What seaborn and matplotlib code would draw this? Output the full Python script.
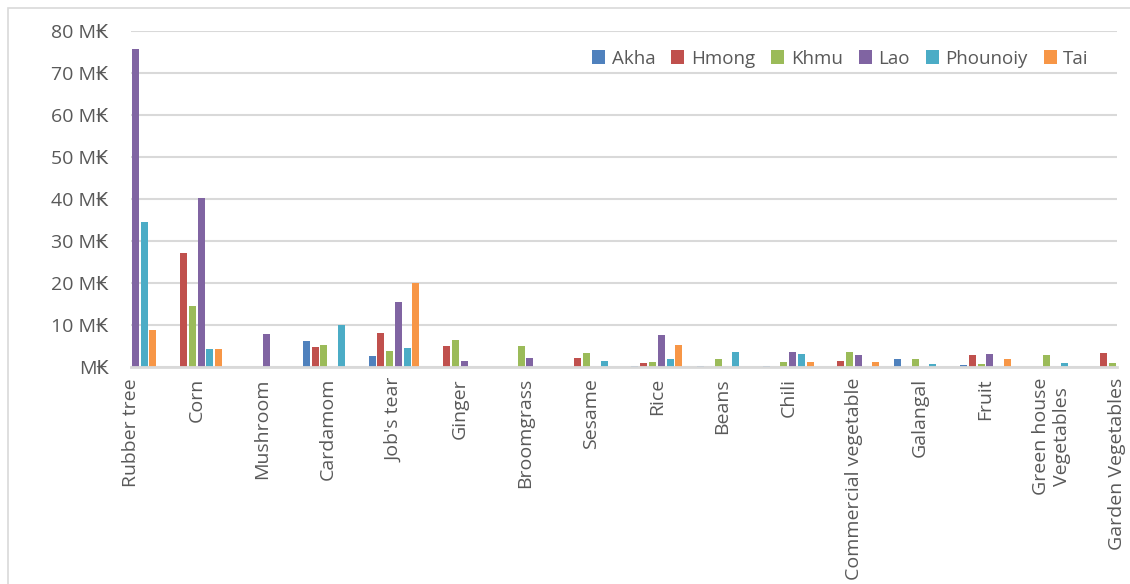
import numpy as np
import pandas as pd
import matplotlib
matplotlib.use("Agg")
import matplotlib.pyplot as plt
from matplotlib.patches import Rectangle
from matplotlib.ticker import FuncFormatter, MultipleLocator
import seaborn as sns

# Crop income by ethnic group (millions of kip)
crops = ["Rubber tree", "Corn", "Mushroom", "Cardamom", "Job's tear", "Ginger",
         "Broomgrass", "Sesame", "Rice", "Beans", "Chili", "Commercial vegetable",
         "Galangal", "Fruit", "Green house\nVegetables", "Garden Vegetables"]
groups = ["Akha", "Hmong", "Khmu", "Lao", "Phounoiy", "Tai"]

akha     = [0, 0, 0, 6.2, 2.6, 0, 0, 0, 0.2, 0.3, 0.2, 0, 1.9, 0.4, 0, 0]
hmong    = [0, 27.1, 0, 4.8, 8.1, 5.0, 0, 2.1, 1.0, 0, 0, 1.4, 0, 2.8, 0, 3.4]
khmu     = [0, 14.6, 0, 5.2, 3.8, 6.4, 4.9, 3.3, 1.3, 1.9, 1.1, 3.6, 1.9, 0.8, 2.9, 1.0]
lao      = [75.8, 40.2, 7.8, 0, 15.5, 1.4, 2.1, 0, 7.7, 0, 3.5, 2.8, 0, 3.2, 0, 0.5]
phounoiy = [34.5, 4.3, 0, 10.0, 4.5, 0, 0, 1.4, 1.9, 3.5, 3.1, 0, 0.6, 0, 0.9, 0]
tai      = [8.8, 4.3, 0, 0, 20.1, 0, 0, 0, 5.2, 0, 1.2, 1.3, 0, 1.9, 0, 0]

colors = ["#4F81BD", "#C0504D", "#9BBB59", "#8064A2", "#4BACC6", "#F79646"]

series = [akha, hmong, khmu, lao, phounoiy, tai]
df = pd.DataFrame({
    "crop": np.repeat([crops], len(groups), axis=0).ravel(),
    "group": np.repeat(groups, len(crops)),
    "value": np.concatenate(series),
})

sns.set_theme(style="white")
plt.rcParams["font.family"] = ["Open Sans", "DejaVu Sans"]
text_col = "#595959"
grid_col = "#D9D9D9"

fig = plt.figure(figsize=(11.3, 5.84), dpi=100)
ax = fig.add_axes([131 / 1130, 1 - 367 / 584, 986 / 1130, 336 / 584])

sns.barplot(data=df, x="crop", y="value", hue="group", order=crops,
            hue_order=groups, palette=colors, width=0.8, gap=0.2,
            linewidth=0, saturation=1, ax=ax)

ax.set_xlim(0.0, 15.0)
ax.set_ylim(0, 80)
ax.yaxis.set_major_locator(MultipleLocator(10))
ax.yaxis.set_major_formatter(
    FuncFormatter(lambda v, p: "M\u20ad" if v == 0 else f"{int(v)} M\u20ad"))
ax.grid(axis="y", color=grid_col, linewidth=1.5)
ax.set_axisbelow(True)
for s in ["top", "right", "left"]:
    ax.spines[s].set_visible(False)
ax.spines["bottom"].set_color(grid_col)
ax.spines["bottom"].set_linewidth(2)
ax.set_xlabel("")
ax.set_ylabel("")
ax.tick_params(axis="y", length=0, pad=16, labelsize=14, labelcolor=text_col)
ax.tick_params(axis="x", length=0, pad=8, labelsize=14, labelcolor=text_col)
for lbl in ax.get_xticklabels():
    lbl.set_rotation(90)
    lbl.set_va("top")
    lbl.set_ha("center")
    lbl.set_multialignment("center")

leg = ax.legend(loc="center left", bbox_to_anchor=(0.46, 0.918), ncol=6,
                frameon=False, fontsize=13.5, handlelength=0.7, handleheight=0.7,
                handletextpad=0.35, columnspacing=0.85, borderaxespad=0)
for t in leg.get_texts():
    t.set_color(text_col)

# Chart frame
fig.patches.append(Rectangle((8 / 1130, -0.1), 1.2, 1.1 - 8 / 584,
                             transform=fig.transFigure, fill=False,
                             edgecolor=grid_col, linewidth=1.2, clip_on=False))

fig.savefig("out.png", dpi=100)
